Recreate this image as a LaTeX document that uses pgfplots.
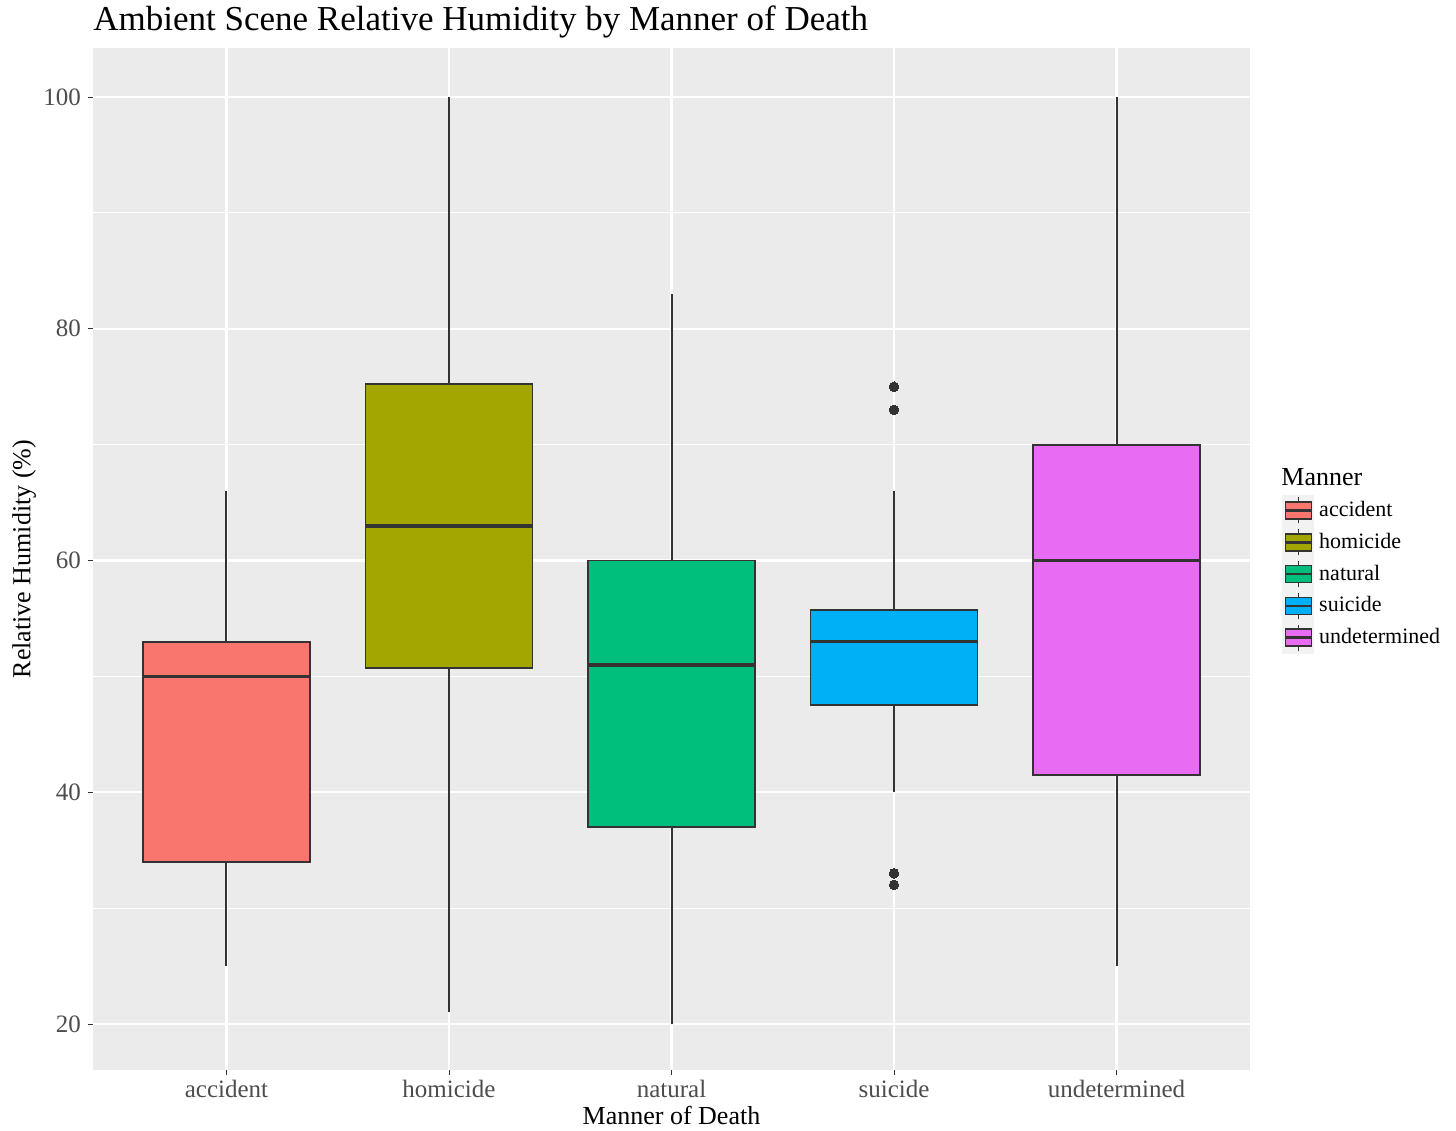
\documentclass[border=0pt]{standalone}
\usepackage{pgfplots}
\pgfplotsset{compat=1.18}
\usepgfplotslibrary{statistics}
\usepackage{fontspec}
\setmainfont{Liberation Serif}
\definecolor{c1}{HTML}{F8766D}
\definecolor{c2}{HTML}{A3A500}
\definecolor{c3}{HTML}{00BF7D}
\definecolor{c4}{HTML}{00B0F6}
\definecolor{c5}{HTML}{E76BF3}
\definecolor{dk}{HTML}{333333}
\definecolor{tk}{HTML}{4D4D4D}
\definecolor{panel}{HTML}{EBEBEB}
\definecolor{keybg}{HTML}{F2F2F2}
\pgfplotsset{boxkey/.style={legend image code/.code={
  \fill[keybg] (0pt,-7.75pt) rectangle (15.5pt,7.75pt);
  \draw[line width=0.8pt,dk] (7.75pt,-6.5pt)--(7.75pt,6.5pt);
  \filldraw[fill=#1,draw=dk,line width=0.8pt] (1.25pt,-4.25pt) rectangle (14.25pt,4.25pt);
  \draw[dk,line width=1.3pt] (1.25pt,0pt)--(14.25pt,0pt);}}}
\begin{document}
\begin{tikzpicture}
\begin{axis}[name=ax,
  width=578.5pt, height=511pt, scale only axis,
  xmin=0.4, xmax=5.6, ymin=16.03, ymax=104.23,
  axis background/.style={fill=panel},
  axis line style={draw=none},
  xtick={1,2,3,4,5},
  xticklabels={accident,homicide,natural,suicide,undetermined},
  ytick={20,40,60,80,100},
  minor ytick={30,50,70,90},
  xmajorgrids, ymajorgrids, yminorgrids,
  major grid style={white,line width=1.1pt},
  minor grid style={white,line width=0.55pt},
  tick align=outside, major tick length=2.5pt, minor tick length=0pt,
  tick style={dk,line width=0.5pt},
  xtick pos=bottom, ytick pos=left,
  /pgf/number format/assume math mode=true,
  ticklabel style={font=\fontsize{12.5}{14}\selectfont, text=tk},
  xticklabel style={yshift=1pt},
  xlabel={Manner of Death},
  ylabel={Relative Humidity (\%)},
  every axis x label/.style={at={(axis description cs:0.5,-0.044)},anchor=center,font=\fontsize{13}{15}\selectfont},
  every axis y label/.style={at={(axis description cs:-0.0595,0.5)},anchor=center,rotate=90,font=\fontsize{13}{15}\selectfont},
  title={Ambient Scene Relative Humidity by Manner of Death},
  title style={font=\fontsize{17.5}{20}\selectfont, at={(axis description cs:0,1)}, anchor=base west, yshift=2.5pt, inner sep=0pt},
  boxplot/draw direction=y,
  boxplot/box extend=0.75,
  boxplot/whisker extend=0,
  boxplot/every whisker/.style={dk,solid,line width=1pt},
  boxplot/every box/.style={line width=0.9pt},
  boxplot/every median/.style={line width=1.8pt},
  legend style={name=leg, at={(axis description cs:1.0225,0.4853)}, anchor=west, draw=none, fill=none,
    font=\fontsize{11}{13}\selectfont, nodes={inner sep=0pt}, row sep=0pt, column sep=2.5pt},
  legend cell align=left,
]
\addplot[forget plot, boxplot prepared={draw position=1, lower whisker=25, lower quartile=34, median=50, upper quartile=53, upper whisker=66},
  fill=c1, draw=dk, line width=0.9pt] coordinates {};
\addplot[forget plot, boxplot prepared={draw position=2, lower whisker=21, lower quartile=50.75, median=63, upper quartile=75.25, upper whisker=100},
  fill=c2, draw=dk, line width=0.9pt] coordinates {};
\addplot[forget plot, boxplot prepared={draw position=3, lower whisker=20, lower quartile=37, median=51, upper quartile=60, upper whisker=83},
  fill=c3, draw=dk, line width=0.9pt] coordinates {};
\addplot[forget plot, boxplot prepared={draw position=4, lower whisker=40, lower quartile=47.5, median=53, upper quartile=55.75, upper whisker=66},
  fill=c4, draw=dk, line width=0.9pt, mark=*, mark size=2.4pt, mark options={fill=dk,draw=dk,line width=0pt}] coordinates {(0,75) (0,73) (0,33) (0,32)};
\addplot[forget plot, boxplot prepared={draw position=5, lower whisker=25, lower quartile=41.5, median=60, upper quartile=70, upper whisker=100},
  fill=c5, draw=dk, line width=0.9pt] coordinates {};
\addlegendimage{boxkey=c1}\addlegendentry{accident}
\addlegendimage{boxkey=c2}\addlegendentry{homicide}
\addlegendimage{boxkey=c3}\addlegendentry{natural}
\addlegendimage{boxkey=c4}\addlegendentry{suicide}
\addlegendimage{boxkey=c5}\addlegendentry{undetermined}
\end{axis}
\node[anchor=base west, inner sep=0pt, font=\fontsize{13}{15}\selectfont] at ([xshift=2.5pt,yshift=2.5pt]leg.north west) {Manner};
\path ([shift={(-46.5pt,-28pt)}]ax.south west) rectangle ([shift={(681.5pt,535pt)}]ax.south west);
\end{tikzpicture}
\end{document}
